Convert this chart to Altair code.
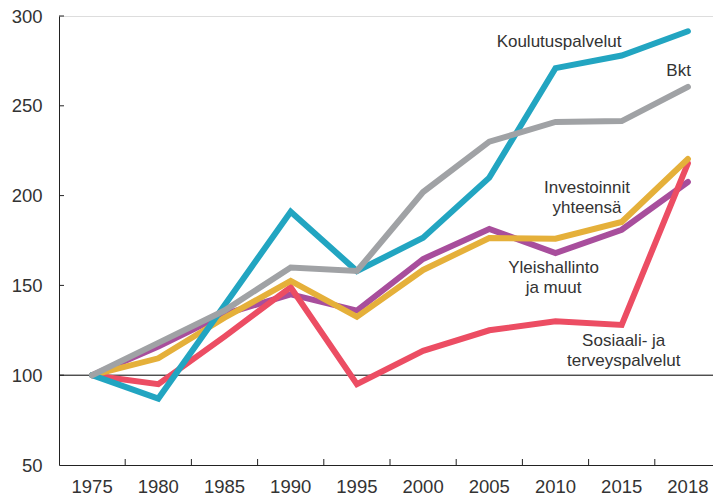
import altair as alt
import pandas as pd

years = ["1975", "1980", "1985", "1990", "1995", "2000", "2005", "2010", "2015", "2018"]

koulutus = [100, 87, 139, 191, 158, 176.5, 210, 271, 278, 291.5]
bkt = [100, 118, 136, 160, 158, 202, 230, 241, 241.5, 260.5]
investoinnit = [100, 109.4, 132, 152.5, 132.5, 158.6, 176.4, 176, 185.3, 220.4]
yleishallinto = [100, 116, 134, 145, 136, 164.7, 181.4, 168, 181, 207.6]
sosiaali = [100, 95, 121.5, 149, 95, 113.6, 125, 130, 128, 218]

y_ticks = [50, 100, 150, 200, 250, 300]

# (name, values, colour) in drawing order
series = [
    ("Yleishallinto ja muut", yleishallinto, "#a84e9c"),
    ("Sosiaali- ja terveyspalvelut", sosiaali, "#ec4d63"),
    ("Investoinnit yhteensä", investoinnit, "#e5b03a"),
    ("Koulutuspalvelut", koulutus, "#22a5c1"),
    ("Bkt", bkt, "#a0a2a5"),
]

# annotations: text, anchor year, anchor value, dx, align
ann_text = ["Koulutuspalvelut", "Bkt", "Investoinnit\nyhteensä", "Yleishallinto\nja muut", "Sosiaali- ja\nterveyspalvelut"]
ann_year = ["2010", "2018", "2010", "2010", "2015"]
ann_value = [282.9, 266.6, 201.4, 156.7, 116.4]
ann_dx = [3.5, 3, 31.5, -2, 2]
ann_align = ["center", "right", "center", "center", "center"]

FONT = "Liberation Sans"
TXT = "#333333"
W, H = 654, 449

xscale = alt.Scale(type="band", domain=years, paddingInner=0, paddingOuter=0, range=[0, 662])
yscale = alt.Scale(domain=[50, 300], nice=False, zero=False)

xaxis = alt.Axis(title=None, labelAngle=0, ticks=False, grid=False, domainColor="#222222",
                 labelFont=FONT, labelFontSize=18.5, labelColor=TXT, labelPadding=12)
yaxis = alt.Axis(title=None, values=y_ticks, ticks=False, grid=False, domainColor="#222222",
                 labelFont=FONT, labelFontSize=18.5, labelColor=TXT, labelPadding=17)

layers = []

# base line at 100
base = alt.Chart(pd.DataFrame({"v": [100]})).mark_rule(color="#000000", strokeWidth=1).encode(
    y=alt.Y("v:Q", scale=yscale, axis=yaxis),
    x=alt.value(0),
    x2=alt.value(662),
)
layers.append(base)

for name, vals, col in series:
    df = pd.DataFrame({"year": years, "value": vals, "series": name})
    ln = alt.Chart(df).mark_line(color=col, strokeWidth=6, strokeCap="round", strokeJoin="miter").encode(
        x=alt.X("year:O", scale=xscale, axis=xaxis, bandPosition=0.5),
        y=alt.Y("value:Q", scale=yscale, axis=yaxis),
    )
    layers.append(ln)

# inward tick marks on the x axis (band boundaries)
xt = alt.Chart(pd.DataFrame({"year": years[1:]})).mark_rule(color="#222222", strokeWidth=1).encode(
    x=alt.X("year:O", scale=xscale, axis=xaxis, bandPosition=0),
    y=alt.value(H),
    y2=alt.value(H - 6),
)
layers.append(xt)

# inward tick marks on the y axis
yt = alt.Chart(pd.DataFrame({"v": y_ticks[1:]})).mark_rule(color="#222222", strokeWidth=1).encode(
    y=alt.Y("v:Q", scale=yscale, axis=yaxis),
    x=alt.value(0),
    x2=alt.value(5),
)
layers.append(yt)

for t, yr, v, dx, al in zip(ann_text, ann_year, ann_value, ann_dx, ann_align):
    d = pd.DataFrame({"year": [yr], "value": [v], "label": [t]})
    tx = alt.Chart(d).mark_text(font=FONT, fontSize=17, color=TXT, align=al, baseline="alphabetic",
                                dx=dx, lineBreak="\n", lineHeight=20).encode(
        x=alt.X("year:O", scale=xscale, axis=xaxis, bandPosition=0.5),
        y=alt.Y("value:Q", scale=yscale, axis=yaxis),
        text="label:N",
    )
    layers.append(tx)

chart = alt.layer(*layers).properties(
    width=W, height=H,
    autosize=alt.AutoSizeParams(type="none"),
    padding={"left": 51, "top": 8, "right": 0, "bottom": 31},
).configure_view(stroke=None).configure(background="white")

chart.save("out.html", embed_options={"renderer": "svg", "actions": False})
